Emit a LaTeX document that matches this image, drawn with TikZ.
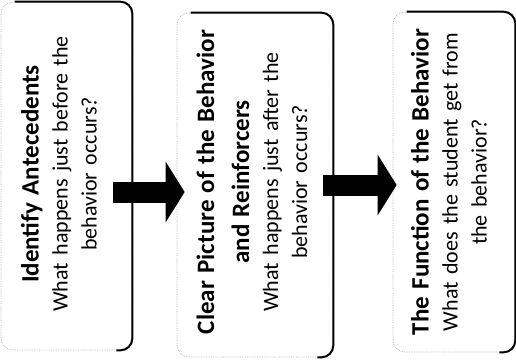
\documentclass[tikz,border=0pt]{standalone}
\usepackage{fontspec}
\setmainfont{Carlito}
\usetikzlibrary{arrows.meta, calc}
\newcommand{\cardhead}[1]{{\fontsize{25}{29}\selectfont\bfseries #1}}

\begin{document}
\begin{tikzpicture}[x=1pt, y=-1pt,
    stepcard/.style={rectangle, rounded corners=12pt, draw=gray!60, densely dotted, fill=white, line width=0.7pt},
    rim/.style={line width=2pt, rounded corners=12pt},
    cardtext/.style={rotate=90, align=center, text width=330pt, inner sep=0pt, font=\fontsize{22}{29}\selectfont},
    bigarrow/.style={line width=21pt, -{Triangle[length=19pt, width=60pt]}},
]
    \useasboundingbox (0,0) rectangle (516,360);

    % Cards
    \node[stepcard, minimum width=131pt, minimum height=348pt] (box1) at (66.5,176) {};
    \node[stepcard, minimum width=156pt, minimum height=344pt] (box2) at (255,185) {};
    \node[stepcard, minimum width=122pt, minimum height=340pt] (box3) at (454,182) {};

    % Dark rims
    \draw[rim] ([xshift=14pt]box1.north west) -- (box1.north east) -- (box1.south east) -- ([xshift=-16pt]box1.south east);
    \draw[rim] ([xshift=14pt]box2.north west) -- (box2.north east) -- (box2.south east) -- ([xshift=-16pt]box2.south east);
    \draw[rim] ([xshift=14pt]box3.north west) -- (box3.north east) -- (box3.south east) -- ([xshift=-16pt]box3.south east);

    % Texts
    \node[cardtext] (text1) at (59,174)
        {\cardhead{Identify Antecedents}\\What happens just before the\\behavior occurs?};
    \node[cardtext] (text2) at (252,182)
        {\cardhead{Clear Picture of the Behavior}\\[6pt]\cardhead{and Reinforcers}\\What happens just after the\\behavior occurs?};
    \node[cardtext] (text3) at (449,182)
        {\cardhead{The Function of the Behavior}\\What does the student get from\\the behavior?};

    % Arrows
    \draw[bigarrow] ($(box1.east)+(-19,16)$) -- ($(box1.east -| box2.west)+(8,16)$);
    \draw[bigarrow] ($(box2.east)+(-10,0)$) -- ($(box2.east -| box3.west)+(4,0)$);
\end{tikzpicture}
\end{document}
